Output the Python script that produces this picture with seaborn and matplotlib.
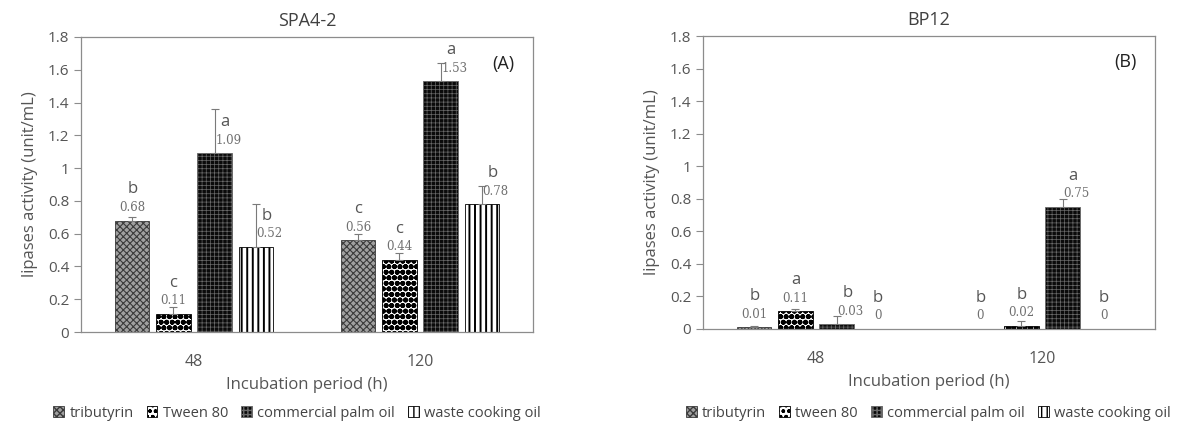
import pandas as pd
import seaborn as sns
import matplotlib.pyplot as plt
import matplotlib.patches as mpatches
from matplotlib.ticker import FuncFormatter

# data
periods = ['48', '120']

spa_substrates = ['tributyrin', 'Tween 80', 'commercial palm oil', 'waste cooking oil']
spa_48 = [0.68, 0.11, 1.09, 0.52]
spa_120 = [0.56, 0.44, 1.53, 0.78]
spa_err_48 = [0.02, 0.04, 0.27, 0.26]
spa_err_120 = [0.04, 0.045, 0.11, 0.11]
spa_letters_48 = ['b', 'c', 'a', 'b']
spa_letters_120 = ['c', 'c', 'a', 'b']

bp_substrates = ['tributyrin', 'tween 80', 'commercial palm oil', 'waste cooking oil']
bp_48 = [0.01, 0.11, 0.03, 0.0]
bp_120 = [0.0, 0.02, 0.75, 0.0]
bp_err_48 = [0.01, 0.01, 0.05, 0.0]
bp_err_120 = [0.0, 0.03, 0.05, 0.0]
bp_letters_48 = ['b', 'a', 'b', 'b']
bp_letters_120 = ['b', 'b', 'a', 'b']

# bar styles: facecolor, hatch colour, hatch, hatch linewidth
styles = [
    ('#a0a0a0', '#3a3a3a', 'xxxxx', 0.8),
    ('white', 'black', 'ooo', 1.9),
    ('#0a0a0a', '#6a6a6a', '++++', 0.5),
    ('white', 'black', '|||', 1.4),
]

plt.rcParams['font.family'] = ['Open Sans', 'DejaVu Sans']
plt.rcParams['hatch.linewidth'] = 1.0

text_col = '#404040'
grey = '#8c8c8c'


def style_patch(p, fc, hc, hatch, hlw):
    p.set_facecolor(fc)
    p.set_edgecolor(hc)
    p.set_hatch(hatch)
    p.set_linewidth(0.6)
    if hasattr(p, 'set_hatch_linewidth'):
        p.set_hatch_linewidth(hlw)


def draw_panel(ax, title, tag, substrates, v48, v120, e48, e120, l48, l120, legend_x):
    df = pd.DataFrame({
        'period': periods * len(substrates),
        'substrate': [s for s in substrates for _ in periods],
        'value': [v for pair in zip(v48, v120) for v in pair],
    })
    sns.barplot(data=df, x='period', y='value', hue='substrate', order=periods,
                hue_order=substrates, width=0.726, gap=0.17, ax=ax,
                legend=False, errorbar=None)

    bar_conts = list(ax.containers)
    for i, cont in enumerate(bar_conts):
        errs = [e48[i], e120[i]]
        lets = [l48[i], l120[i]]
        for j, bar in enumerate(cont):
            style_patch(bar, *styles[i])
            xc = bar.get_x() + bar.get_width() / 2
            h = bar.get_height()
            if errs[j] > 0:
                ax.errorbar(xc, h, yerr=[[0], [errs[j]]], fmt='none',
                            ecolor='#7a7a7a', elinewidth=0.8, capsize=3, capthick=0.8)
            shift = errs[j] > 0.045 and h > 0.02
            ha = 'left' if shift else 'center'
            lx = xc + 0.005 if shift else xc
            ax.text(lx, h + 0.08, f'{h:g}', ha=ha, va='center', fontsize=8.5,
                    family='DejaVu Serif', color='#707070')
            ax.text(lx + (0.02 if shift else 0), h + 0.19, lets[j], ha=ha, va='center',
                    fontsize=12, color='#555555')

    ax.set_ylim(0, 1.8)
    ax.set_xlim(-0.5, 1.5)
    ax.set_yticks([0, 0.2, 0.4, 0.6, 0.8, 1.0, 1.2, 1.4, 1.6, 1.8])
    ax.yaxis.set_major_formatter(FuncFormatter(lambda v, p: f'{v:g}'))
    ax.tick_params(axis='y', colors=grey, labelcolor='#555555', labelsize=11,
                   length=5, width=0.8, direction='out')
    ax.tick_params(axis='x', length=0, labelsize=11.5, labelcolor='#555555', pad=16)
    for s in ax.spines.values():
        s.set_color(grey)
        s.set_linewidth(0.9)
    ax.set_title(title, fontsize=13, color=text_col, pad=8)
    ax.set_xlabel('Incubation period (h)', fontsize=12, color='#555555', labelpad=5)
    ax.set_ylabel('lipases activity (unit/mL)', fontsize=12, color='#555555', labelpad=7)
    ax.text(0.935, 0.91, tag, transform=ax.transAxes, ha='center', va='center',
            fontsize=13, color='#222222')

    handles = []
    for st, s in zip(styles, substrates):
        p = mpatches.Patch(label=s)
        style_patch(p, *st)
        handles.append(p)
    ax.legend(handles=handles, loc='center', bbox_to_anchor=(legend_x, 1 - 413 / 436),
              bbox_transform=ax.figure.transFigure, ncol=4,
              frameon=False, fontsize=10.5, handlelength=0.75, handleheight=0.75,
              handletextpad=0.35, columnspacing=0.9, labelcolor='#444444')


fig = plt.figure(figsize=(11.88, 4.36), dpi=100)
ax1 = fig.add_axes([81 / 1188, 1 - 332 / 436, (533 - 81) / 1188, (332 - 37) / 436])
ax2 = fig.add_axes([703 / 1188, 1 - 329 / 436, (1155 - 703) / 1188, (329 - 36) / 436])

draw_panel(ax1, 'SPA4-2', '(A)', spa_substrates, spa_48, spa_120, spa_err_48, spa_err_120,
           spa_letters_48, spa_letters_120, 297 / 1188)
draw_panel(ax2, 'BP12', '(B)', bp_substrates, bp_48, bp_120, bp_err_48, bp_err_120,
           bp_letters_48, bp_letters_120, 928 / 1188)

fig.savefig('out.png', dpi=100)
